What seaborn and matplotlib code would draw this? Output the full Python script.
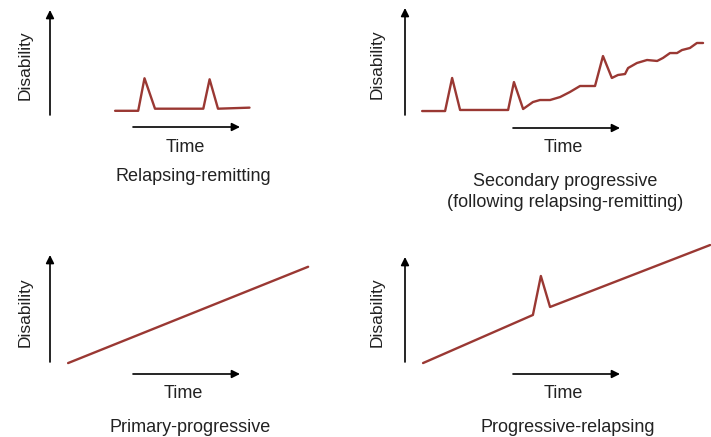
import numpy as np
import pandas as pd
import matplotlib
matplotlib.use("Agg")
import matplotlib.pyplot as plt
import seaborn as sns

sns.set_style("white")
plt.rcParams['font.family'] = ['Liberation Sans', 'DejaVu Sans']

# Disease course curves (time / disability in arbitrary units, 0-100 per panel)
rr_time = [31, 42, 45, 50, 73, 76, 80, 95]
rr_dis = [4, 4, 35, 6, 6, 34, 6, 7]

sp_time = [5.6, 13.1, 15.4, 18.0, 33.7, 35.6, 38.6, 41.8, 44.1, 47.4, 50.7, 53.9,
           57.2, 62.1, 64.7, 67.6, 69.6, 71.9, 72.9, 75.8, 79.1, 82.4, 84.3, 86.6,
           88.9, 90.5, 93.1, 95.4, 97.4]
sp_dis = [3.7, 3.7, 34.6, 4.7, 4.7, 30.8, 5.6, 12.1, 14, 14, 16.8, 21.5,
          27.1, 27.1, 55.1, 34.6, 37.4, 38.3, 43.9, 48.6, 51.4, 50.5, 53.3, 57.9,
          57.9, 60.7, 62.6, 67.3, 67.3]

pp_time = [6.7, 95.6]
pp_dis = [-1, 89]

pr_time = [5.9, 41.8, 44.4, 47.4, 99.7]
pr_dis = [-1, 44.8, 81.9, 52.4, 111.4]

titles = [["Relapsing-remitting"],
          ["Secondary progressive", "(following relapsing-remitting)"],
          ["Primary-progressive"],
          ["Progressive-relapsing"]]

line_color = "#9a3833"
text_color = "#222222"
W, H = 711, 437

fig = plt.figure(figsize=(W / 100, H / 100), dpi=100)


def fx(x):
    return x / W


def fy(y):
    return 1 - y / H


# panel boxes in pixels: left, right, top, bottom (the disability arrow spans this)
boxes = [(50, 260, 10, 115), (405, 711, 8, 115), (50, 320, 255, 362), (405, 711, 257, 362)]
curves = [(rr_time, rr_dis), (sp_time, sp_dis), (pp_time, pp_dis), (pr_time, pr_dis)]
time_arrows = [(133, 240, 127), (513, 620, 128), (133, 240, 374), (513, 620, 374)]
ylabel_pos = [(25, 65), (377, 64), (25, 312), (377, 312)]
time_pos = [(185, 147), (563, 147), (183, 393), (563, 393)]
title_pos = [(193, 177), (565, 182), (190, 427), (568, 427)]

for box, (t, d) in zip(boxes, curves):
    l, r, tp, b = box
    ax = fig.add_axes([fx(l), fy(b), (r - l) / W, (b - tp) / H])
    df = pd.DataFrame({'time': t, 'disability': d})
    sns.lineplot(data=df, x='time', y='disability', ax=ax, sort=False,
                 color=line_color, lw=1.7, estimator=None)
    for ln in ax.lines:
        ln.set_clip_on(False)
    ax.set_xlim(0, 100)
    ax.set_ylim(0, 100)
    ax.axis('off')

arrow_kw = dict(arrowstyle='-|>', color='black', lw=1.2, mutation_scale=12,
                shrinkA=0, shrinkB=0)

for i, box in enumerate(boxes):
    l, r, tp, b = box
    # disability arrow
    fig.add_artist(matplotlib.patches.FancyArrowPatch(
        (fx(l), fy(b)), (fx(l), fy(tp)), transform=fig.transFigure, **arrow_kw))
    # time arrow
    x0, x1, yy = time_arrows[i]
    fig.add_artist(matplotlib.patches.FancyArrowPatch(
        (fx(x0), fy(yy)), (fx(x1), fy(yy)), transform=fig.transFigure, **arrow_kw))

    lx, ly = ylabel_pos[i]
    fig.text(fx(lx), fy(ly), "Disability", rotation=90, ha='center', va='center',
             fontsize=12.5, color=text_color)
    tx, ty = time_pos[i]
    fig.text(fx(tx), fy(ty), "Time", ha='center', va='center', fontsize=13,
             color=text_color)
    px, py = title_pos[i]
    for k, line in enumerate(titles[i]):
        fig.text(fx(px), fy(py + 21 * k), line, ha='center', va='center',
                 fontsize=13, color=text_color)

fig.savefig("out.png", dpi=100)
